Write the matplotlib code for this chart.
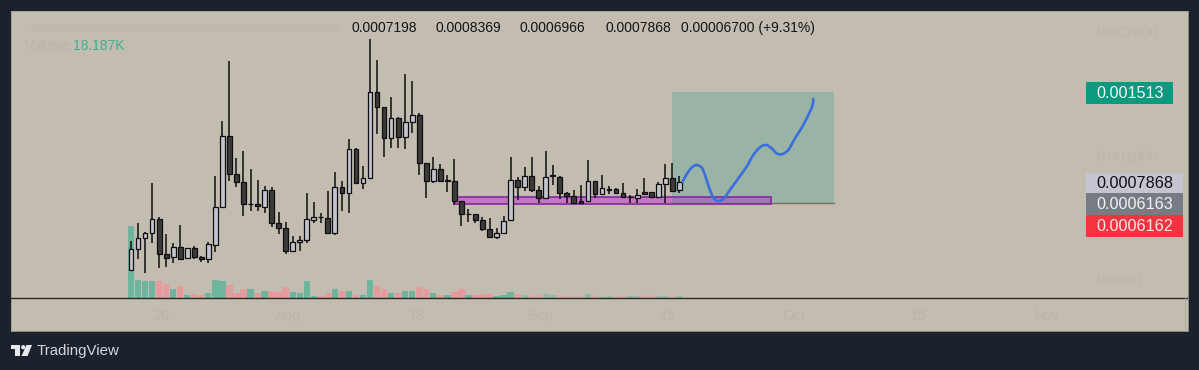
import matplotlib
matplotlib.use('Agg')
import matplotlib.pyplot as plt
from matplotlib.patches import Rectangle, Polygon, Circle, PathPatch
from matplotlib.path import Path

plt.rcParams['font.family'] = ['Liberation Sans', 'DejaVu Sans']

# precios en unidades de 1e-7
opens = [751, 2448, 3310, 3713, 4845, 2017, 1775, 2582, 1694, 2502, 1775, 1613, 2798, 5841, 11604, 8480,
         7861, 6056, 6056, 5868, 7214, 4548, 4117, 2313, 2986, 3175, 4818, 5060, 4925, 3767, 7430, 6945,
         10527, 7807, 8184, 15132, 13893, 11389, 13004, 11523, 12735, 13247, 9369, 7968, 8884, 7968, 7915,
         6326, 5249, 5249, 4764, 4037, 3390, 3767, 4791, 8049, 7429, 8318, 7187, 6540, 8345, 8291, 6944,
         6702, 6325, 6352, 7914, 6864, 7214, 7268, 6971, 6621, 6567, 7025, 7025, 6621, 7725, 8156, 7198]
closes = [2421, 3310, 3713, 4845, 2017, 1721, 2582, 1667, 2502, 1775, 1613, 2825, 5814, 11604, 8507, 7888,
          6056, 6110, 5895, 7214, 4575, 4117, 2313, 2986, 3202, 4845, 5006, 5006, 3767, 7430, 6945, 10527,
          7807, 8157, 15132, 13920, 11389, 13004, 11523, 12708, 13247, 9423, 7968, 8884, 7915, 8022, 6353,
          5302, 5302, 4791, 4064, 3390, 3767, 4737, 8049, 7457, 8318, 7214, 6540, 8237, 8399, 6944, 6702,
          6190, 6190, 7941, 6864, 7348, 7268, 7000, 6675, 6675, 6837, 6864, 6648, 7698, 8156, 7160, 7868]
highs = [3121, 4575, 3848, 7807, 5006, 3633, 2906, 4387, 2502, 2690, 1909, 3040, 8345, 12789, 17663, 9773,
         10392, 8884, 8022, 7538, 7484, 5410, 4629, 3525, 3471, 6999, 6218, 5329, 7161, 8696, 7968, 11308,
         10581, 9180, 19414, 17717, 13893, 14701, 13139, 16586, 16021, 13408, 9423, 9854, 9315, 8426, 9746,
         6353, 5652, 5275, 5060, 4925, 4117, 5141, 9854, 8292, 9099, 9907, 7537, 10391, 9206, 8345, 7052,
         7214, 7591, 9637, 7968, 8452, 7537, 7348, 7752, 6810, 7294, 8156, 7052, 7887, 9314, 9368, 8369]
lows = [751, 1613, 536, 2959, 886, 1020, 1290, 1613, 1694, 1667, 1424, 1344, 2232, 5787, 7968, 7484,
        5141, 5518, 5545, 5383, 4198, 3660, 2044, 2259, 2313, 2906, 4575, 4575, 3713, 3552, 5545, 5329,
        7753, 7322, 8130, 11739, 9854, 10635, 10581, 10500, 11846, 8426, 6541, 7753, 7888, 7080, 6029,
        4333, 4602, 4521, 3929, 3310, 3229, 3660, 4683, 6406, 7160, 7079, 6136, 6487, 7618, 6460, 6136,
        6136, 6136, 6298, 6540, 6837, 6891, 6971, 6621, 6136, 6190, 6837, 6621, 6567, 6190, 7106, 6966]
# volumen en miles
volumes = [860, 216, 208, 208, 200, 172, 112, 140, 40, 48, 40, 56, 216, 200, 160, 60,
           112, 108, 56, 80, 80, 68, 128, 72, 64, 200, 28, 28, 60, 112, 80, 88,
           40, 32, 216, 148, 104, 60, 56, 80, 80, 128, 108, 56, 32, 40, 72,
           108, 40, 40, 48, 48, 28, 40, 68, 52, 40, 40, 40, 52, 32, 32, 28,
           20, 28, 44, 36, 16, 20, 20, 32, 20, 20, 32, 32, 20, 30, 24, 18.187]

# proyeccion dibujada a mano
path_x = [78.47, 79.04, 79.75, 80.46, 81.18, 81.65, 82.27, 82.83, 83.55, 84.25, 85.2, 86.39, 87.58,
          88.52, 89.47, 90.33, 91.14, 91.85, 92.56, 93.5, 94.45, 95.64, 96.58, 96.97, 97.05]
path_y = [7887, 8480, 9018, 9234, 9018, 8426, 7349, 6595, 6325, 6487, 7214, 8157, 9099,
          10042, 10661, 10850, 10580, 10176, 10096, 10446, 11388, 12465, 13543, 14081, 14566]

target_price = 0.001513
entry_price = 0.0006163
zone_top = 0.000662
zone_bottom = 0.000612
header_values = ['0.0007198', '0.0008369', '0.0006966', '0.0007868', '0.00006700 (+9.31%)']
y_ticks = [0.002, 0.001, 0.0]
y_tick_labels = ['0.002000', '0.001000', '0.0000']
x_ticks = [4.4, 22.3, 40.7, 58.2, 76.4, 94.2, 112.1, 130.3]
x_tick_labels = ['20', 'Aug', '18', 'Sep', '15', 'Oct', '15', 'Nov']

BG = '#1b222d'
PANEL = '#c3bcb0'
FAINT = '#bbb4a9'
UP_FILL = '#c4c4d0'
DOWN_FILL = '#3c3a3a'
INK = '#0e0e0e'
W, H = 1199, 370

fig = plt.figure(figsize=(W / 100, H / 100), dpi=100, facecolor=BG)
rect = [11 / W, 1 - 331 / H, (1188 - 11) / W, (331 - 11) / H]

# Volumen (detras)
ax_vol = fig.add_axes(rect, facecolor=PANEL, zorder=1)
ax_vol.set_xlim(-17.07, 150.36)
ax_vol.set_ylim(-396, 3444)
for i in range(len(volumes)):
    color = '#6fb49c' if closes[i] >= opens[i] else '#e59a9b'
    if i > 55:
        color = '#93b8a4' if closes[i] >= opens[i] else '#d8aaa6'
    ax_vol.bar(i, volumes[i], width=0.9, color=color, linewidth=0)
ax_vol.axhline(0, color='#2a2926', lw=1.0, zorder=4)
ax_vol.set_xticks([])
ax_vol.set_yticks([])
for side in ['top', 'right', 'bottom', 'left']:
    ax_vol.spines[side].set_color('#a09c93')
    ax_vol.spines[side].set_linewidth(0.6)

# Velas
ax = fig.add_axes(rect, facecolor='none', zorder=2)
ax.set_xlim(-17.07, 150.36)
ax.set_ylim(-0.0004179, 0.0021677)

ax.add_patch(Rectangle((46.1, zone_bottom), 91.0 - 46.1, zone_top - zone_bottom, facecolor='#c23fc4',
                       alpha=0.55, linewidth=0, zorder=1))
ax.add_patch(Rectangle((77, entry_price), 100 - 77, target_price - entry_price, facecolor='#089981',
                       alpha=0.22, linewidth=0, zorder=2))
ax.plot([77, 100], [entry_price, entry_price], color='#7d6f66', lw=1.0, zorder=3)
ax.add_patch(Rectangle((46.1, zone_bottom), 91.0 - 46.1, zone_top - zone_bottom, facecolor='none',
                       edgecolor='#8a2fa6', linewidth=1.3, zorder=3))

for i in range(len(opens)):
    o, c = opens[i] * 1e-7, closes[i] * 1e-7
    ax.vlines(i, lows[i] * 1e-7, highs[i] * 1e-7, color=INK, lw=1.1, zorder=4)
    fill = UP_FILL if c >= o else DOWN_FILL
    ax.bar(i, abs(c - o), bottom=min(o, c), width=0.68, color=fill, edgecolor=INK, linewidth=0.9, zorder=5)

# Curva suave (Catmull-Rom a Bezier) que pasa por los puntos leidos
pts = [(x, y * 1e-7) for x, y in zip(path_x, path_y)]
verts = [pts[0]]
codes = [Path.MOVETO]
for i in range(len(pts) - 1):
    p0 = pts[max(i - 1, 0)]
    p1 = pts[i]
    p2 = pts[i + 1]
    p3 = pts[min(i + 2, len(pts) - 1)]
    c1 = (p1[0] + (p2[0] - p0[0]) / 6, p1[1] + (p2[1] - p0[1]) / 6)
    c2 = (p2[0] - (p3[0] - p1[0]) / 6, p2[1] - (p3[1] - p1[1]) / 6)
    verts += [c1, c2, p2]
    codes += [Path.CURVE4, Path.CURVE4, Path.CURVE4]
ax.add_patch(PathPatch(Path(verts, codes), facecolor='none', edgecolor='#3a6ee0', lw=1.9,
                       capstyle='round', joinstyle='round', zorder=6))

ax.yaxis.tick_right()
ax.set_yticks(y_ticks)
ax.set_yticklabels(y_tick_labels, color=FAINT, fontsize=10.5)
ax.tick_params(axis='y', length=0, direction='in', pad=-66)
ax.set_xticks(x_ticks)
ax.set_xticklabels(x_tick_labels, color=FAINT, fontsize=10.5)
ax.tick_params(axis='x', length=0, direction='in', pad=-16)
for side in ['top', 'right', 'bottom', 'left']:
    ax.spines[side].set_visible(False)

# Capa en pixeles para textos y etiquetas
ov = fig.add_axes([0, 0, 1, 1], facecolor='none', zorder=3)
ov.set_xlim(0, W)
ov.set_ylim(H, 0)
ov.axis('off')

for x, s in zip([352, 435.7, 519, 605, 680.7], header_values):
    ov.text(x, 28, s, color='#141414', fontsize=10, va='center', ha='left')
ov.text(73, 46, '18.187K', color='#3fae8f', fontsize=10, va='center', ha='left')
ov.text(25, 46, 'Volume', color=FAINT, fontsize=10, va='center', ha='left')
ov.add_patch(Rectangle((25, 25), 315, 7, facecolor=FAINT, alpha=0.3, linewidth=0))
ov.plot([1185, 1185], [298, 331], color='#b0aba0', lw=0.6)

labels = [('0.001513', 82, 104, 1173, '#0b9a80', '#eef6f3'),
          ('0.0007868', 173, 193, 1183, '#c5c5d1', '#101014'),
          ('0.0006163', 193, 215, 1183, '#787b84', '#f2f2f2'),
          ('0.0006162', 215, 237, 1183, '#f1343f', '#fbe9e6')]
for s, top, bottom, right, fc, tc in labels:
    ov.add_patch(Rectangle((1086, top), right - 1086, bottom - top, facecolor=fc, linewidth=0))
    ov.text(1096.5, (top + bottom) / 2 + 0.3, s, color=tc, fontsize=11.7, va='center', ha='left')

# Logo y marca
ov.add_patch(Polygon([(11, 345), (20, 345), (20, 356), (15, 356), (15, 349), (11, 349)], facecolor='#e8e9ec', linewidth=0))
ov.add_patch(Circle((23.2, 347.2), 2.1, facecolor='#e8e9ec', linewidth=0))
ov.add_patch(Polygon([(26.5, 345), (32, 345), (27.5, 356), (21.5, 356)], facecolor='#e8e9ec', linewidth=0))
ov.text(37, 351.5, 'TradingView', color='#d4d6dc', fontsize=10.8, va='center', ha='left')

fig.savefig('out.png', dpi=100, facecolor=BG)
